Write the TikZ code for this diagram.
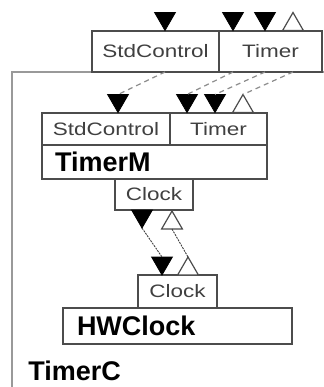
\documentclass[tikz,border=0pt]{standalone}
\usepackage{fontspec}
\setmainfont{Liberation Sans}
\newfontfamily\portfont[FakeStretch=1.25]{Liberation Sans}
\usepackage{tikz}
\usetikzlibrary{positioning,shapes.geometric}
\usepackage{xcolor}
\definecolor{boxgray}{gray}{0.3}
\definecolor{txtgray}{gray}{0.25}
\definecolor{wiregray}{gray}{0.55}
\definecolor{linkgray}{gray}{0.25}
\definecolor{framegray}{gray}{0.6}

\begin{document}
\begin{tikzpicture}[
        x=0.5pt, y=-0.5pt,
        port/.style={rectangle, draw=boxgray, fill=white, line width=0.7pt,
                    inner sep=0pt, outer sep=0pt, text=txtgray,
                    font=\portfont\fontsize{9}{10}\selectfont},
        comp/.style={rectangle, draw=boxgray, fill=white, line width=0.7pt,
                    outer sep=0pt, inner ysep=0pt, align=left,
                    font=\bfseries\fontsize{13.5}{15}\selectfont},
        usetri/.style={regular polygon, regular polygon sides=3,
                    shape border rotate=180, minimum size=12pt,
                    inner sep=0pt, outer sep=0pt, fill=black, draw=black,
                    line width=0.4pt},
        provtri/.style={regular polygon, regular polygon sides=3,
                    minimum size=12pt, inner sep=0pt, outer sep=0pt,
                    fill=white, draw=boxgray, line width=0.6pt},
        wire/.style={draw=wiregray, dash pattern=on 2.5pt off 2pt,
                    line width=0.6pt},
        link/.style={draw=linkgray, dash pattern=on 1pt off 0.5pt,
                    line width=0.45pt}
      ]
      \useasboundingbox (0,0) rectangle (323,387);

      % TimerC frame
      \draw[framegray, line width=0.8pt] (340,72) -| (12,400);

      % interface of TimerC
      \node[port, minimum width=63.5pt, minimum height=20.5pt] (sc1) at (155.5,51.5) {StdControl};
      \node[port, minimum width=51.5pt, minimum height=20.5pt, right=0pt of sc1] (tm1) {Timer};

      % TimerM
      \node[port, minimum width=64pt, minimum height=16pt] (sc2) at (106,129) {StdControl};
      \node[port, minimum width=48.5pt, minimum height=16pt, right=0pt of sc2] (tm2) {Timer};
      \node[comp, minimum height=17pt, inner xsep=6.5pt, text width=99.5pt,
            anchor=north west] (tmm) at (sc2.south west) {TimerM};
      \node[port, minimum width=39pt, minimum height=15.5pt, anchor=north] (clk1) at (154,179) {Clock};

      % HWClock
      \node[port, minimum width=39.5pt, minimum height=16.5pt, anchor=north] (clk2) at (177.5,275) {Clock};
      \node[comp, minimum height=18pt, inner xsep=7pt, text width=100.5pt,
            anchor=north west] (hwc) at (63,308) {HWClock};

      \node[anchor=base west, inner sep=0pt, font=\bfseries\fontsize{13.5}{15}\selectfont] (lbl) at (28,380) {TimerC};

      % markers
      \node[usetri, anchor=south] (tu1) at (165,30.5) {};
      \node[usetri, anchor=south] (tu2) at (233,30.5) {};
      \node[usetri, anchor=south] (tu3) at (265,30.5) {};
      \node[provtri, anchor=south] (tp1) at (293,30.5) {};

      \node[usetri, anchor=south] (mu1) at (118,112.5) {};
      \node[usetri, anchor=south] (mu2) at (187,112.5) {};
      \node[usetri, anchor=south] (mu3) at (215,112.5) {};
      \node[provtri, anchor=south] (mp1) at (243,112.5) {};

      \node[usetri, anchor=north] (cu) at (142,210) {};
      \node[provtri, anchor=north] (cp) at (172,211) {};
      \node[usetri, anchor=south] (du) at (162,275) {};
      \node[provtri, anchor=south] (dp) at (188,275) {};

      % wiring
      \draw[wire] (tu1 |- sc1.south) -- (mu1.north);
      \draw[wire] (tu2 |- tm1.south) -- (mu2.north);
      \draw[wire] (tu3 |- tm1.south) -- (mu3.north);
      \draw[wire] (tp1 |- tm1.south) -- (mp1.north);

      \draw[link] (cu.south) -- (du.north);
      \draw[link] (cp.south) -- (dp.north);
    \end{tikzpicture}
\end{document}
